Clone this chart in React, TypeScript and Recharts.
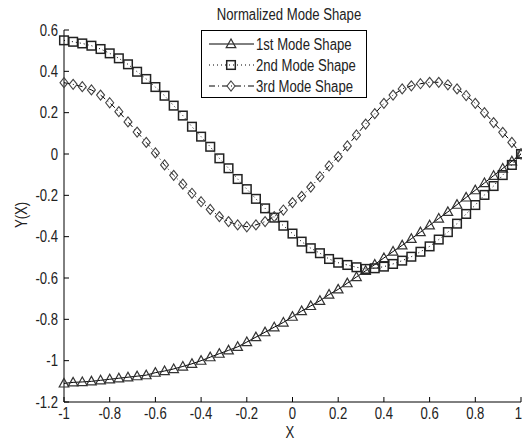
import React from 'react';
import { LineChart, Line, XAxis, YAxis, Legend } from 'recharts';

const FONT = "'Liberation Sans', Arial, sans-serif";
const SQUEEZE = 0.82;

const xValues = [
  -1, -0.96, -0.92, -0.88, -0.84, -0.8, -0.76, -0.72, -0.68, -0.64,
  -0.6, -0.56, -0.52, -0.48, -0.44, -0.4, -0.36, -0.32, -0.28, -0.24,
  -0.2, -0.16, -0.12, -0.08, -0.04, 0, 0.04, 0.08, 0.12, 0.16,
  0.2, 0.24, 0.28, 0.32, 0.36, 0.4, 0.44, 0.48, 0.52, 0.56,
  0.6, 0.64, 0.68, 0.72, 0.76, 0.8, 0.84, 0.88, 0.92, 0.96, 1,
];

const mode1 = [
  -1.11, -1.105, -1.103, -1.1, -1.095, -1.09, -1.085, -1.08, -1.075, -1.07,
  -1.058, -1.05, -1.04, -1.028, -1.015, -1.0, -0.983, -0.966, -0.95, -0.933,
  -0.91, -0.886, -0.862, -0.838, -0.815, -0.787, -0.76, -0.735, -0.71, -0.68,
  -0.655, -0.625, -0.595, -0.565, -0.535, -0.503, -0.472, -0.442, -0.41, -0.378,
  -0.345, -0.312, -0.28, -0.245, -0.21, -0.175, -0.14, -0.105, -0.07, -0.035, 0,
];

const mode2 = [
  0.55, 0.543, 0.535, 0.524, 0.508, 0.487, 0.463, 0.434, 0.398, 0.363,
  0.324, 0.282, 0.234, 0.186, 0.132, 0.084, 0.035, -0.021, -0.069, -0.121,
  -0.17, -0.217, -0.263, -0.308, -0.347, -0.385, -0.424, -0.456, -0.48, -0.508,
  -0.526, -0.537, -0.548, -0.556, -0.553, -0.545, -0.532, -0.516, -0.497, -0.473,
  -0.447, -0.414, -0.378, -0.337, -0.29, -0.247, -0.198, -0.155, -0.102, -0.053, 0,
];

const mode3 = [
  0.345, 0.337, 0.326, 0.31, 0.285, 0.248, 0.205, 0.155, 0.106, 0.056,
  0.005, -0.053, -0.103, -0.146, -0.19, -0.231, -0.268, -0.303, -0.327, -0.343,
  -0.352, -0.343, -0.327, -0.303, -0.271, -0.235, -0.205, -0.16, -0.11, -0.058,
  -0.013, 0.039, 0.092, 0.145, 0.195, 0.245, 0.285, 0.315, 0.33, 0.34,
  0.347, 0.347, 0.335, 0.315, 0.283, 0.245, 0.2, 0.152, 0.105, 0.056, 0,
];

const xTicks = [-1, -0.8, -0.6, -0.4, -0.2, 0, 0.2, 0.4, 0.6, 0.8, 1];
const yTicks = [-1.2, -1, -0.8, -0.6, -0.4, -0.2, 0, 0.2, 0.4, 0.6];

const seriesNames = ['1st Mode Shape', '2nd Mode Shape', '3rd Mode Shape'];

const data = xValues.map((x, i) => ({ x, m1: mode1[i], m2: mode2[i], m3: mode3[i] }));

const fmt = (v: number) => String(Number(v.toFixed(1)));

// narrow-looking text: Liberation Sans squeezed horizontally
const NText = ({ x, y, anchor, children }: any) => (
  <text
    transform={`translate(${x} ${y}) scale(${SQUEEZE} 1)`}
    textAnchor={anchor}
    fontSize={16}
    fill="#222"
    fontFamily={FONT}
  >
    {children}
  </text>
);

const triangle = (cx: number, cy: number, k?: any) => (
  <polygon
    key={k}
    points={`${cx},${cy - 5} ${cx - 4.8},${cy + 3.6} ${cx + 4.8},${cy + 3.6}`}
    fill="none"
    stroke="#333"
    strokeWidth={1.2}
  />
);

const square = (cx: number, cy: number, k?: any) => (
  <rect key={k} x={cx - 4.3} y={cy - 4.3} width={8.6} height={8.6} fill="none" stroke="#222" strokeWidth={1.5} />
);

const diamond = (cx: number, cy: number, k?: any) => (
  <polygon
    key={k}
    points={`${cx},${cy - 5} ${cx + 4},${cy} ${cx},${cy + 5} ${cx - 4},${cy}`}
    fill="none"
    stroke="#444"
    strokeWidth={1.1}
  />
);

const BottomTick = (props: any) => {
  const { x, y, payload } = props;
  const last = payload.value === xTicks[xTicks.length - 1];
  return (
    <g>
      <line x1={x} y1={y} x2={x} y2={y - 5} stroke="#000" />
      <NText x={last ? x + 1 : x} y={y + 17} anchor={last ? 'end' : 'middle'}>
        {fmt(payload.value)}
      </NText>
    </g>
  );
};

const LeftTick = (props: any) => {
  const { x, y, payload } = props;
  return (
    <g>
      <line x1={x} y1={y} x2={x + 5} y2={y} stroke="#000" />
      <NText x={x - 6} y={y + 5.5} anchor="end">{fmt(payload.value)}</NText>
    </g>
  );
};

const TopTick = (props: any) => {
  const { x, y } = props;
  return <line x1={x} y1={y} x2={x} y2={y + 5} stroke="#000" />;
};

const RightTick = (props: any) => {
  const { x, y } = props;
  return <line x1={x} y1={y} x2={x - 5} y2={y} stroke="#000" />;
};

const legendRows = [
  { name: seriesNames[0], dash: undefined, marker: triangle },
  { name: seriesNames[1], dash: '1 3', marker: square },
  { name: seriesNames[2], dash: '6 3 1 3', marker: diamond },
];

const LegendBox = () => (
  <div style={{ width: 166, height: 68, border: '1px solid #000', background: '#fff', boxSizing: 'border-box' }}>
    <svg width={164} height={66} style={{ display: 'block' }}>
      {legendRows.map((r, i) => {
        const cy = 13 + i * 21;
        return (
          <g key={r.name}>
            <line x1={7} y1={cy} x2={52} y2={cy} stroke="#000" strokeDasharray={r.dash} />
            {r.marker(29, cy)}
            <NText x={54} y={cy + 5.5} anchor="start">{r.name}</NText>
          </g>
        );
      })}
    </svg>
  </div>
);

const htmlText: React.CSSProperties = {
  position: 'absolute',
  fontSize: 16,
  color: '#222',
  lineHeight: '20px',
  whiteSpace: 'nowrap',
  fontFamily: FONT,
};

export default function App() {
  return (
    <div style={{ position: 'absolute', left: 0, top: 0, width: 522, height: 441, background: '#fff', fontFamily: FONT }}>
      <LineChart width={522} height={441} data={data} margin={{ top: 30, right: 1, bottom: 0, left: 0 }}>
        <XAxis
          dataKey="x"
          type="number"
          domain={[-1, 1]}
          ticks={xTicks}
          interval={0}
          height={39}
          tickSize={0}
          tickMargin={0}
          tick={BottomTick}
          axisLine={{ stroke: '#000' }}
        />
        <XAxis
          xAxisId="top"
          orientation="top"
          dataKey="x"
          type="number"
          domain={[-1, 1]}
          ticks={xTicks}
          interval={0}
          height={0}
          tickSize={0}
          tickMargin={0}
          tick={TopTick}
          axisLine={{ stroke: '#000' }}
        />
        <YAxis
          type="number"
          domain={[-1.2, 0.6]}
          ticks={yTicks}
          interval={0}
          width={64}
          tickSize={0}
          tickMargin={0}
          tick={LeftTick}
          axisLine={{ stroke: '#000' }}
        />
        <YAxis
          yAxisId="right"
          orientation="right"
          type="number"
          domain={[-1.2, 0.6]}
          ticks={yTicks}
          interval={0}
          width={0}
          tickSize={0}
          tickMargin={0}
          tick={RightTick}
          axisLine={{ stroke: '#000' }}
        />
        <Legend
          layout="vertical"
          align="center"
          verticalAlign="middle"
          content={() => <LegendBox />}
          wrapperStyle={{ position: 'absolute', left: 201, top: 30, width: 166, height: 68 }}
        />
        <Line
          dataKey="m1"
          name={seriesNames[0]}
          type="linear"
          stroke="#000"
          strokeWidth={1}
          dot={(p: any) => triangle(p.cx, p.cy, `t${p.index}`)}
          activeDot={false}
          isAnimationActive={false}
        />
        <Line
          dataKey="m2"
          name={seriesNames[1]}
          type="linear"
          stroke="#000"
          strokeWidth={1}
          strokeDasharray="1 3"
          dot={(p: any) => square(p.cx, p.cy, `s${p.index}`)}
          activeDot={false}
          isAnimationActive={false}
        />
        <Line
          dataKey="m3"
          name={seriesNames[2]}
          type="linear"
          stroke="#000"
          strokeWidth={1}
          strokeDasharray="6 3 1 3"
          dot={(p: any) => diamond(p.cx, p.cy, `d${p.index}`)}
          activeDot={false}
          isAnimationActive={false}
        />
      </LineChart>
      <div style={{ ...htmlText, left: 289, top: 5, transform: `translateX(-50%) scaleX(${SQUEEZE})` }}>
        Normalized Mode Shape
      </div>
      <div style={{ ...htmlText, left: 290, top: 423, transform: `translateX(-50%) scaleX(${SQUEEZE})` }}>
        X
      </div>
      <div style={{ ...htmlText, left: 22, top: 215, transform: `translate(-50%, -50%) rotate(-90deg) scaleX(${SQUEEZE})` }}>
        Y(X)
      </div>
    </div>
  );
}
